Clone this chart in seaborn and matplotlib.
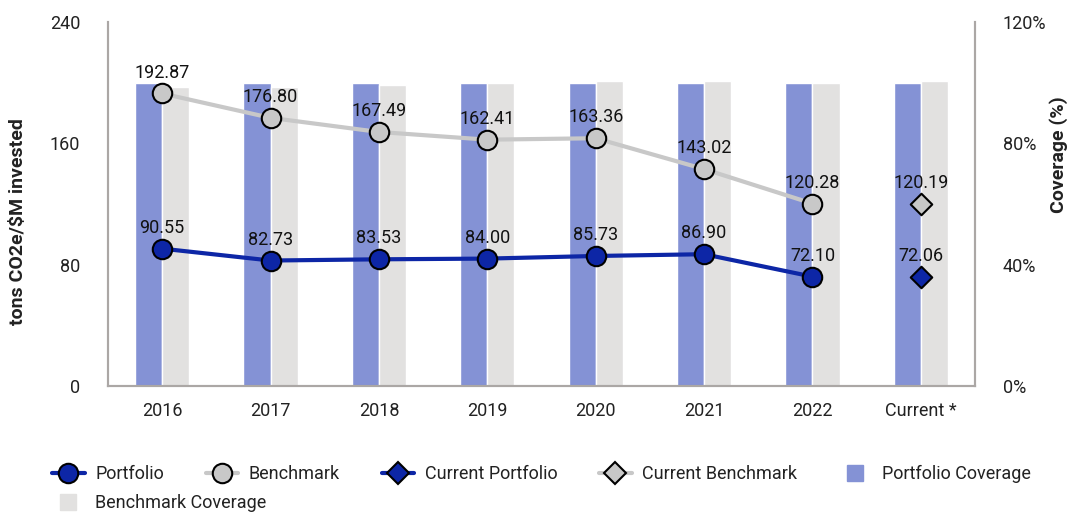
import numpy as np
import pandas as pd
import matplotlib
matplotlib.use("Agg")
import matplotlib.pyplot as plt
from matplotlib.lines import Line2D
from matplotlib.ticker import FuncFormatter
import seaborn as sns

# ---- data ----
categories = ["2016", "2017", "2018", "2019", "2020", "2021", "2022", "Current *"]
portfolio = [90.55, 82.73, 83.53, 84.00, 85.73, 86.90, 72.10]
benchmark = [192.87, 176.80, 167.49, 162.41, 163.36, 143.02, 120.28]
current_portfolio = [72.06]
current_benchmark = [120.19]
portfolio_coverage = [100, 100, 100, 100, 100, 100, 100, 100]
benchmark_coverage = [98.5, 98.5, 99.3, 100, 100.6, 100.6, 100, 100.6]
left_ticks = [0, 80, 160, 240]
right_ticks = [0, 40, 80, 120]

# ---- style ----
C_PORT = "#0D26A6"
C_BENCH = "#C8C8C8"
C_PCOV = "#8492D5"
C_BCOV = "#E2E1E0"
C_SPINE = "#ABA7A5"
C_TEXT = "#222222"

sns.set_theme(style="white")
plt.rcParams["font.family"] = ["Roboto", "DejaVu Sans"]

fig = plt.figure(figsize=(10.72, 5.13), dpi=100)
ax = fig.add_axes([108 / 1072, 1 - 386 / 513, (975 - 108) / 1072, (386 - 22) / 513])
ax2 = ax.twinx()

pos = np.arange(len(categories))

# coverage bars on the right axis
cov_df = pd.DataFrame({
    "cat": categories * 2,
    "cov": portfolio_coverage + benchmark_coverage,
    "series": ["Portfolio Coverage"] * len(categories) + ["Benchmark Coverage"] * len(categories),
})
sns.barplot(data=cov_df, x="cat", y="cov", hue="series", order=categories,
            hue_order=["Portfolio Coverage", "Benchmark Coverage"],
            palette=[C_PCOV, C_BCOV], width=0.5, saturation=1, ax=ax2,
            legend=False, errorbar=None)

# lines on left axis
ax.set_zorder(ax2.get_zorder() + 1)
ax.patch.set_visible(False)

hist = pos[:len(portfolio)]
sns.lineplot(x=hist, y=benchmark, ax=ax, color=C_BENCH, lw=3, marker="o",
             markersize=14, markerfacecolor=C_BENCH, markeredgecolor="black",
             markeredgewidth=1.5)
sns.lineplot(x=hist, y=portfolio, ax=ax, color=C_PORT, lw=3, marker="o",
             markersize=14, markerfacecolor=C_PORT, markeredgecolor="black",
             markeredgewidth=1.5)
cur = pos[len(portfolio):]
sns.scatterplot(x=cur, y=current_benchmark, ax=ax, marker="D", s=120,
                color=C_BENCH, edgecolor="black", linewidth=1.5, zorder=5)
sns.scatterplot(x=cur, y=current_portfolio, ax=ax, marker="D", s=120,
                color=C_PORT, edgecolor="black", linewidth=1.5, zorder=5)

for xs, ys in [(hist, benchmark), (hist, portfolio), (cur, current_benchmark), (cur, current_portfolio)]:
    for x, v in zip(xs, ys):
        ax.annotate(f"{v:.2f}", (x, v), xytext=(0, 15), textcoords="offset points",
                    ha="center", va="center", fontsize=13, color="#111111", zorder=6)

# axes
ax.set_xlim(-0.5, len(categories) - 0.5)
ax.set_ylim(0, 240)
ax2.set_ylim(0, 120)
ax.set_xticks(pos)
ax.set_xticklabels(categories)
ax.set_yticks(left_ticks)
ax2.set_yticks(right_ticks)
ax2.yaxis.set_major_formatter(FuncFormatter(lambda v, p: f"{v:.0f}%"))
ax.set_xlabel("")
ax2.set_xlabel("")
ax.tick_params(axis="y", length=0, pad=20, labelsize=13, colors=C_TEXT)
ax.tick_params(axis="x", length=0, pad=11.5, labelsize=13, colors=C_TEXT)
ax2.tick_params(axis="y", length=0, pad=20, labelsize=13, colors=C_TEXT)
ax.set_ylabel(r"tons CO2e/\$M invested", fontsize=14, fontweight="bold", color=C_TEXT,
              va="center", ha="center")
ax2.set_ylabel("Coverage (%)", fontsize=14, fontweight="bold", color=C_TEXT, rotation=90,
               va="center", ha="center")
ax.yaxis.set_label_coords((18 - 108) / 867, (386 - 222) / 364)
ax2.yaxis.set_label_coords((1059 - 108) / 867, (386 - 155) / 364)

for a in (ax, ax2):
    a.spines["top"].set_visible(False)
    for s in ("left", "right", "bottom"):
        a.spines[s].set_color(C_SPINE)
        a.spines[s].set_linewidth(1.5)
ax.grid(False)
ax2.grid(False)

# legend
h1 = [
    Line2D([], [], color=C_PORT, lw=3, marker="o", markersize=14, markerfacecolor=C_PORT, markeredgecolor="black", markeredgewidth=1.5),
    Line2D([], [], color=C_BENCH, lw=3, marker="o", markersize=14, markerfacecolor=C_BENCH, markeredgecolor="black", markeredgewidth=1.5),
    Line2D([], [], color=C_PORT, lw=3, marker="D", markersize=11, markerfacecolor=C_PORT, markeredgecolor="black", markeredgewidth=1.5),
    Line2D([], [], color=C_BENCH, lw=3, marker="D", markersize=11, markerfacecolor=C_BENCH, markeredgecolor="black", markeredgewidth=1.5),
    Line2D([], [], color=C_PCOV, lw=0, marker="s", markersize=11),
]
l1 = ["Portfolio", "Benchmark", "Current Portfolio", "Current Benchmark", "Portfolio Coverage"]
leg1 = fig.legend(h1, l1, loc="center left", bbox_to_anchor=(52 / 1072, 1 - 474 / 513),
                  ncol=5, frameon=False, fontsize=13, handlelength=1.8, handletextpad=0.6,
                  columnspacing=2.3, borderpad=0, borderaxespad=0)
h2 = [Line2D([], [], color=C_BCOV, lw=0, marker="s", markersize=11)]
leg2 = fig.legend(h2, ["Benchmark Coverage"], loc="center left", bbox_to_anchor=(52 / 1072, 1 - 503 / 513),
                  ncol=1, frameon=False, fontsize=13, handlelength=1.8, handletextpad=0.6,
                  borderpad=0, borderaxespad=0)
for lg in (leg1, leg2):
    for t in lg.get_texts():
        t.set_color(C_TEXT)

fig.savefig("out.png", dpi=100)
